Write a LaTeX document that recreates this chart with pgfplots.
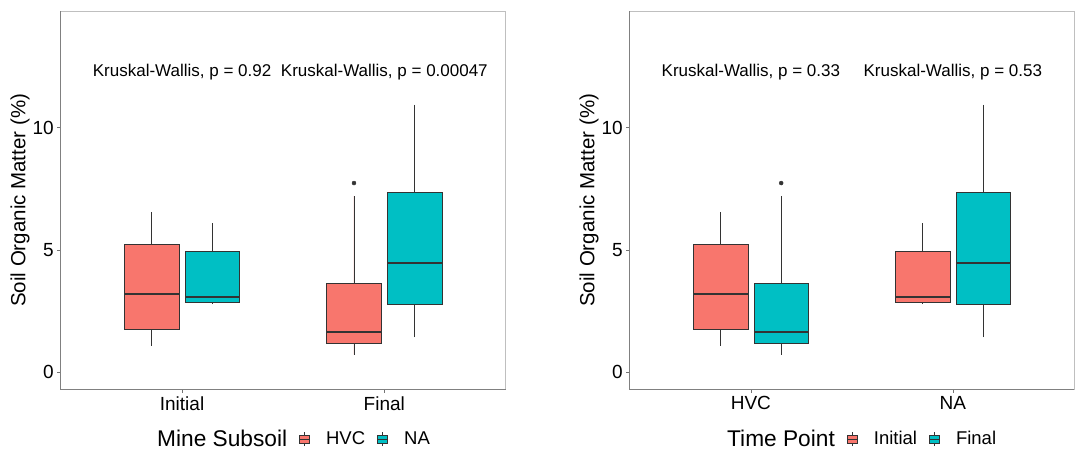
\documentclass[border=0pt]{standalone}
\usepackage{fontspec}
\setmainfont{Liberation Sans}
\usepackage{pgfplots}
\pgfplotsset{compat=1.18}
\usepgfplotslibrary{statistics}
\definecolor{hvc}{HTML}{F8766D}
\definecolor{nac}{HTML}{00BFC4}
\definecolor{edge}{HTML}{333333}

\pgfplotsset{
  panel/.style={
    scale only axis, height=378pt,
    xmin=0.4, xmax=2.6, ymin=-0.69, ymax=14.76,
    xtick={1,2}, ytick={0,5,10},
    xtick pos=left, ytick pos=left, tick align=outside,
    major tick length=3.5pt,
    every tick/.style={black!55, line width=0.6pt},
    axis line style={draw=black!25, line width=0.7pt},
    tick label style={font=\fontsize{19}{19}\selectfont, black},
    /pgf/number format/assume math mode=true,
    ylabel={Soil Organic Matter (\%)},
    ylabel style={font=\fontsize{20.5}{20.5}\selectfont, at={(axis description cs:-0.0915,0.5)}, anchor=center},
    legend columns=3,
    legend style={draw=none, fill=none, font=\fontsize{18.5}{19}\selectfont,
      inner sep=0pt, nodes={inner sep=0pt},
      anchor=west,
      /tikz/every odd column/.append style={column sep=16pt},
      /tikz/every even column/.append style={column sep=12pt}},
    boxplot/draw direction=y,
    boxplot/box extend=0.27,
    boxplot/whisker extend=0,
    boxplot/every box/.style={draw=edge, line width=0.6pt},
    boxplot/every whisker/.style={draw=edge, line width=0.6pt},
    boxplot/every median/.style={draw=edge, line width=1.8pt},
    after end axis/.code={
      \draw[black!50, line width=0.7pt] (rel axis cs:0,1) -- (rel axis cs:0,0) -- (rel axis cs:1,0);
    },
  },
  leghvc/.style={legend image code/.code={
    \draw[edge, line width=0.6pt] (5pt,-7pt) -- (5pt,7pt);
    \filldraw[fill=hvc, draw=edge, line width=0.6pt] (0pt,-4pt) rectangle (10pt,4pt);
    \draw[edge, line width=1pt] (0pt,0pt) -- (10pt,0pt);}},
  legnac/.style={legend image code/.code={
    \draw[edge, line width=0.6pt] (5pt,-7pt) -- (5pt,7pt);
    \filldraw[fill=nac, draw=edge, line width=0.6pt] (0pt,-4pt) rectangle (10pt,4pt);
    \draw[edge, line width=1pt] (0pt,0pt) -- (10pt,0pt);}},
}

\begin{document}
\begin{tikzpicture}
\useasboundingbox (0,0) rectangle (1078pt,450pt);

% ---------- left panel ----------
\begin{axis}[panel, width=445pt, at={(60.7pt,60.7pt)}, anchor=south west,
  xticklabels={Initial, Final},
  legend style={at={(axis description cs:0.1804,-0.1315)}}]
\addlegendimage{empty legend}
\addlegendentry{\fontsize{22.7}{23}\selectfont Mine Subsoil\hspace{2pt}}
\addlegendimage{leghvc}
\addlegendentry{HVC}
\addlegendimage{legnac}
\addlegendentry{NA}

\addplot[forget plot, fill=hvc, draw=edge, boxplot prepared={draw position=0.85,
  lower whisker=1.10, lower quartile=1.77, median=3.22, upper quartile=5.22, upper whisker=6.56}] coordinates {};
\addplot[forget plot, fill=nac, draw=edge, boxplot prepared={draw position=1.15,
  lower whisker=2.79, lower quartile=2.87, median=3.09, upper quartile=4.94, upper whisker=6.10}] coordinates {};
\addplot[forget plot, fill=hvc, draw=edge, boxplot prepared={draw position=1.85,
  lower whisker=0.73, lower quartile=1.20, median=1.66, upper quartile=3.65, upper whisker=7.22}] coordinates {};
\addplot[forget plot, fill=nac, draw=edge, boxplot prepared={draw position=2.15,
  lower whisker=1.43, lower quartile=2.78, median=4.46, upper quartile=7.36, upper whisker=10.95}] coordinates {};
\addplot[forget plot, only marks, mark=*, mark size=2pt, edge] coordinates {(1.85,7.74)};

\node[font=\fontsize{17}{17}\selectfont] at (axis cs:1,12.29) {Kruskal-Wallis, p = 0.92};
\node[font=\fontsize{17}{17}\selectfont] at (axis cs:2,12.29) {Kruskal-Wallis, p = 0.00047};
\end{axis}

% ---------- right panel ----------
\begin{axis}[panel, width=444.3pt, at={(629.7pt,60.7pt)}, anchor=south west,
  xticklabels={HVC, NA},
  legend style={at={(axis description cs:0.183,-0.1315)}}]
\addlegendimage{empty legend}
\addlegendentry{\fontsize{22.7}{23}\selectfont Time Point\hspace{2pt}}
\addlegendimage{leghvc}
\addlegendentry{Initial}
\addlegendimage{legnac}
\addlegendentry{Final}

\addplot[forget plot, fill=hvc, draw=edge, boxplot prepared={draw position=0.85,
  lower whisker=1.10, lower quartile=1.77, median=3.22, upper quartile=5.22, upper whisker=6.56}] coordinates {};
\addplot[forget plot, fill=nac, draw=edge, boxplot prepared={draw position=1.15,
  lower whisker=0.73, lower quartile=1.20, median=1.66, upper quartile=3.65, upper whisker=7.22}] coordinates {};
\addplot[forget plot, fill=hvc, draw=edge, boxplot prepared={draw position=1.85,
  lower whisker=2.79, lower quartile=2.87, median=3.09, upper quartile=4.94, upper whisker=6.10}] coordinates {};
\addplot[forget plot, fill=nac, draw=edge, boxplot prepared={draw position=2.15,
  lower whisker=1.43, lower quartile=2.78, median=4.46, upper quartile=7.36, upper whisker=10.95}] coordinates {};
\addplot[forget plot, only marks, mark=*, mark size=2pt, edge] coordinates {(1.15,7.74)};

\node[font=\fontsize{17}{17}\selectfont] at (axis cs:1,12.29) {Kruskal-Wallis, p = 0.33};
\node[font=\fontsize{17}{17}\selectfont] at (axis cs:2,12.29) {Kruskal-Wallis, p = 0.53};
\end{axis}
\end{tikzpicture}
\end{document}
